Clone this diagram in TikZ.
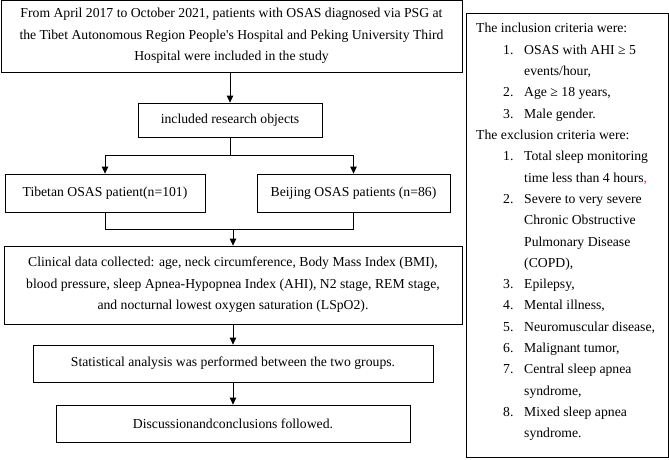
\documentclass[tikz,border=0pt]{standalone}
\usepackage{fontspec}
\setmainfont{Liberation Serif}
\usetikzlibrary{arrows.meta}
\definecolor{redmark}{rgb}{0.85,0.2,0.3}
\begin{document}
\begin{tikzpicture}[x=1pt,y=-1pt,
  box/.style={draw, line width=0.8pt, align=center, inner sep=0pt, font=\fontsize{13.7}{21.5}\selectfont},
  arr/.style={line width=0.8pt, -{Triangle[length=7pt,width=6.5pt]}},
  ln/.style={line width=0.8pt},
  txt/.style={anchor=base west, inner sep=0pt, font=\fontsize{13.7}{21.3}\selectfont}]
\useasboundingbox (0,0) rectangle (669,460);
\node[box, minimum width=461pt, minimum height=72pt] (top) at (231.5,36)
  {From April 2017 to October 2021, patients with OSAS diagnosed via PSG at\\
   the Tibet Autonomous Region People\textquotesingle s Hospital and Peking University Third\\
   Hospital were included in the study};
\node[box, minimum width=184pt, minimum height=34pt] (incl) at (230,120) {included research objects};
\node[box, minimum width=200pt, minimum height=38pt] (tib) at (105,193) {Tibetan OSAS patient(n=101)};
\node[box, minimum width=193pt, minimum height=38pt] (bei) at (353.5,193) {Beijing OSAS patients (n=86)};
\node[box, minimum width=458pt, minimum height=78pt] (clin) at (233,285)
  {Clinical data collected: age, neck circumference, Body Mass Index (BMI),\\
   blood pressure, sleep Apnea-Hypopnea Index (AHI), N2 stage, REM stage,\\
   and nocturnal lowest oxygen saturation (LSpO2).};
\node[box, minimum width=400pt, minimum height=37pt] (stat) at (233,363.5) {Statistical analysis was performed between the two groups.};
\node[box, minimum width=354pt, minimum height=37pt] (disc) at (233,423.5) {Discussionandconclusions followed.};
\node[draw, line width=0.8pt, minimum width=202pt, minimum height=444pt, inner sep=0pt] (crit) at (567,235) {};

\draw[arr] (incl.north |- top.south) -- (incl.north);
\coordinate (b1) at (230,155);
\draw[ln] (incl.south) -- (b1);
\draw[arr] (b1) -| (tib.north);
\draw[arr] (b1) -| (bei.north);
\coordinate (m1) at (233,229);
\draw[ln] (tib.south) |- (m1);
\draw[ln] (bei.south) |- (m1);
\draw[arr] (m1) -- (clin.north);
\draw[arr] (clin.south) -- (stat.north);
\draw[arr] (stat.south) -- (disc.north);

% criteria text
\def\hx{476}\def\nx{503}\def\tx{524}
\node[txt] (h1) at (\hx,33.0) {The inclusion criteria were:};
\node[txt] (n11) at (\nx,54.3) {1.};
\node[txt] (t11) at (\tx,54.3) {OSAS with AHI ≥ 5};
\node[txt] (t11b) at (\tx,75.6) {events/hour,};
\node[txt] (n12) at (\nx,96.9) {2.};
\node[txt] (t12) at (\tx,96.9) {Age ≥ 18 years,};
\node[txt] (n13) at (\nx,118.2) {3.};
\node[txt] (t13) at (\tx,118.2) {Male gender.};
\node[txt] (h2) at (\hx,139.5) {The exclusion criteria were:};
\node[txt] (n21) at (\nx,160.8) {1.};
\node[txt] (t21) at (\tx,160.8) {Total sleep monitoring};
\node[txt] (t21b) at (\tx,182.1) {time less than 4 hours\textcolor{redmark}{,}};
\node[txt] (n22) at (\nx,203.4) {2.};
\node[txt] (t22) at (\tx,203.4) {Severe to very severe};
\node[txt] (t22b) at (\tx,224.7) {Chronic Obstructive};
\node[txt] (t22c) at (\tx,246.0) {Pulmonary Disease};
\node[txt] (t22d) at (\tx,267.3) {(COPD),};
\node[txt] (n23) at (\nx,288.6) {3.};
\node[txt] (t23) at (\tx,288.6) {Epilepsy,};
\node[txt] (n24) at (\nx,309.9) {4.};
\node[txt] (t24) at (\tx,309.9) {Mental illness,};
\node[txt] (n25) at (\nx,331.2) {5.};
\node[txt] (t25) at (\tx,331.2) {Neuromuscular disease,};
\node[txt] (n26) at (\nx,352.5) {6.};
\node[txt] (t26) at (\tx,352.5) {Malignant tumor,};
\node[txt] (n27) at (\nx,373.8) {7.};
\node[txt] (t27) at (\tx,373.8) {Central sleep apnea};
\node[txt] (t27b) at (\tx,395.1) {syndrome,};
\node[txt] (n28) at (\nx,416.4) {8.};
\node[txt] (t28) at (\tx,416.4) {Mixed sleep apnea};
\node[txt] (t28b) at (\tx,437.7) {syndrome.};
\end{tikzpicture}
\end{document}
